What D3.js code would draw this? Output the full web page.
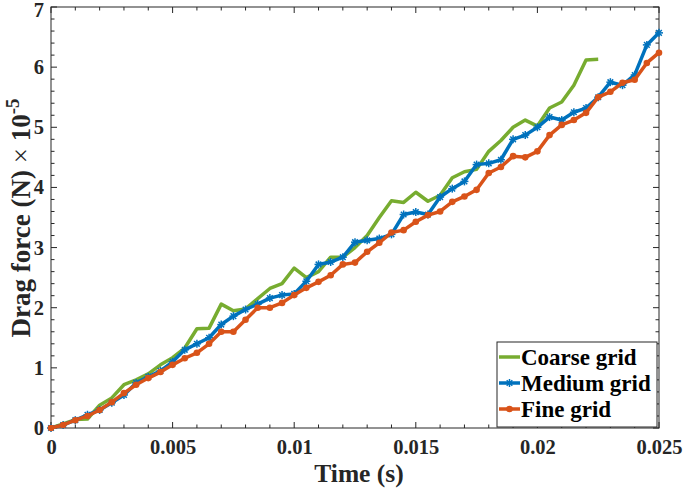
<!DOCTYPE html>
<html><head><meta charset="utf-8">
<script src="https://cdn.jsdelivr.net/npm/d3@7"></script>
<style>body{margin:0;background:#fff}svg{display:block}</style>
</head><body>
<script>
const timeStep = 0.0005;
const coarse = [0,0.07,0.14,0.15,0.38,0.5,0.72,0.8,0.9,1.05,1.17,1.33,1.65,1.66,2.06,1.95,1.98,2.15,2.32,2.4,2.66,2.5,2.6,2.84,2.84,3.0,3.2,3.5,3.78,3.75,3.92,3.77,3.87,4.16,4.26,4.3,4.6,4.78,5.0,5.12,5.02,5.32,5.42,5.7,6.12,6.13];
const medium = [0,0.05,0.13,0.22,0.3,0.42,0.55,0.75,0.85,0.95,1.1,1.3,1.4,1.5,1.72,1.86,1.97,2.06,2.16,2.21,2.23,2.44,2.72,2.76,2.84,3.09,3.12,3.15,3.22,3.55,3.59,3.55,3.84,3.98,4.1,4.38,4.4,4.46,4.8,4.87,5.0,5.17,5.12,5.25,5.32,5.5,5.75,5.7,5.87,6.37,6.57];
const fine = [0,0.05,0.13,0.2,0.3,0.43,0.58,0.72,0.83,0.93,1.05,1.16,1.25,1.4,1.6,1.6,1.8,2.0,2.0,2.08,2.21,2.33,2.43,2.54,2.72,2.75,2.93,3.08,3.25,3.29,3.43,3.54,3.6,3.76,3.85,3.96,4.24,4.34,4.52,4.5,4.6,4.87,5.04,5.12,5.24,5.5,5.59,5.74,5.79,6.07,6.24];
const xTicks = [0,0.005,0.01,0.015,0.02,0.025];
const xTickLabels = ["0","0.005","0.01","0.015","0.02","0.025"];
const yTicks = [0,1,2,3,4,5,6,7];
const seriesNames = ["Coarse grid","Medium grid","Fine grid"];
const colors = ["#77AC30","#0072BD","#D95319"];

const W=685,H=488, L=51, R=659, T=7, B=428;
const svg=d3.select("body").append("svg").attr("width",W).attr("height",H);
const x=d3.scaleLinear().domain([0,0.025]).range([L,R]);
const y=d3.scaleLinear().domain([0,7]).range([B,T]);
const axisColor="#262626";
const font="'Liberation Serif','Times New Roman',serif";

// minor ticks
const xMinor=d3.range(0,0.02501,0.001);
const yMinor=d3.range(0,7.001,0.2);
const g=svg.append("g").attr("stroke",axisColor).attr("stroke-width",1);
xMinor.forEach(v=>{
  const major = xTicks.some(t=>Math.abs(t-v)<1e-9);
  const len = major?6:3.5;
  g.append("line").attr("x1",x(v)).attr("x2",x(v)).attr("y1",B).attr("y2",B-len);
  g.append("line").attr("x1",x(v)).attr("x2",x(v)).attr("y1",T).attr("y2",T+len);
});
yMinor.forEach(v=>{
  const major = yTicks.some(t=>Math.abs(t-v)<1e-9);
  const len = major?6:3.5;
  g.append("line").attr("y1",y(v)).attr("y2",y(v)).attr("x1",L).attr("x2",L+len);
  g.append("line").attr("y1",y(v)).attr("y2",y(v)).attr("x1",R).attr("x2",R-len);
});

// axes via d3 (labels)
const xAxis=svg.append("g").attr("transform",`translate(0,${B})`)
  .call(d3.axisBottom(x).tickValues(xTicks).tickFormat((d,i)=>xTickLabels[i]).tickSize(0).tickPadding(11));
const yAxis=svg.append("g").attr("transform",`translate(${L},0)`)
  .call(d3.axisLeft(y).tickValues(yTicks).tickFormat(d3.format("d")).tickSize(0).tickPadding(7));
[xAxis,yAxis].forEach(a=>{
  a.select(".domain").remove();
  a.selectAll("text").attr("font-family",font).attr("font-weight","bold").attr("font-size",20.5).attr("fill",axisColor);
});
yAxis.selectAll("text").filter(d=>d===7).attr("dy","0.38em").attr("y",1.5);
svg.append("rect").attr("x",L).attr("y",T).attr("width",R-L).attr("height",B-T)
  .attr("fill","none").attr("stroke",axisColor).attr("stroke-width",1);

// series
const series=[coarse,medium,fine];
const line=d3.line().x((d,i)=>x(i*timeStep)).y(d=>y(d));
series.forEach((s,k)=>{
  svg.append("path").datum(s).attr("d",line).attr("fill","none")
    .attr("stroke",colors[k]).attr("stroke-width",3.5).attr("stroke-linejoin","round");
  if(k===1){
    const m=svg.append("g").attr("stroke",colors[k]).attr("stroke-width",1.5);
    s.forEach((d,i)=>{
      const cx=x(i*timeStep), cy=y(d), r=4;
      [[r,0],[0,r],[r*0.7,r*0.7],[r*0.7,-r*0.7]].forEach(([dx,dy])=>{
        m.append("line").attr("x1",cx-dx).attr("x2",cx+dx).attr("y1",cy-dy).attr("y2",cy+dy);
      });
    });
  }
  if(k===2){
    svg.append("g").selectAll("circle").data(s).join("circle")
      .attr("cx",(d,i)=>x(i*timeStep)).attr("cy",d=>y(d)).attr("r",3.3).attr("fill",colors[k]);
  }
});

// axis labels
svg.append("text").attr("x",359).attr("y",482).attr("text-anchor","middle")
  .attr("font-family",font).attr("font-weight","bold").attr("font-size",25.5).attr("fill",axisColor).text("Time (s)");
const yl=svg.append("text").attr("transform",`translate(30,218) rotate(-90)`).attr("text-anchor","middle")
  .attr("font-family",font).attr("font-weight","bold").attr("font-size",27).attr("fill",axisColor);
yl.append("tspan").text("Drag force (N) ");
yl.append("tspan").attr("font-weight","normal").text("× ");
yl.append("tspan").text("10");
yl.append("tspan").attr("dy",-11).attr("font-size",19).text("-5");

// legend
const lg=svg.append("g");
lg.append("rect").attr("x",497).attr("y",342).attr("width",160).attr("height",85).attr("fill","#fff").attr("stroke",axisColor).attr("stroke-width",1);
const baselines=[365,391,417];
seriesNames.forEach((n,k)=>{
  const yy=baselines[k]-8;
  lg.append("line").attr("x1",499).attr("x2",520).attr("y1",yy).attr("y2",yy).attr("stroke",colors[k]).attr("stroke-width",3.5);
  if(k===1){
    const cx=509.5,r=4;
    [[r,0],[0,r],[r*0.7,r*0.7],[r*0.7,-r*0.7]].forEach(([dx,dy])=>{
      lg.append("line").attr("x1",cx-dx).attr("x2",cx+dx).attr("y1",yy-dy).attr("y2",yy+dy).attr("stroke",colors[k]).attr("stroke-width",1.5);
    });
  }
  if(k===2) lg.append("circle").attr("cx",509.5).attr("cy",yy).attr("r",3.3).attr("fill",colors[k]);
  lg.append("text").attr("x",521).attr("y",baselines[k]).attr("font-family",font).attr("font-weight","bold")
    .attr("font-size",23).attr("fill","#000").text(n);
});
</script>
</body></html>
